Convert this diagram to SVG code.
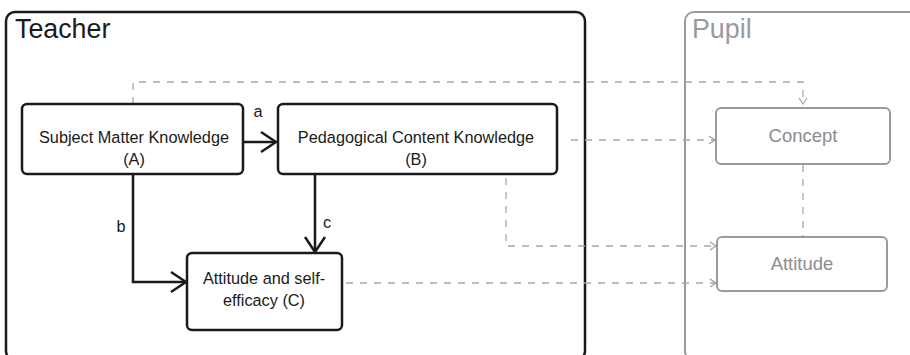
<svg xmlns="http://www.w3.org/2000/svg" width="910" height="355" viewBox="0 0 910 355">
<defs>
<style>
.container-t{fill:none;stroke:#1a1a1a;stroke-width:2.5}
.container-p{fill:none;stroke:#9a9a9a;stroke-width:2}
.box{fill:#fff;stroke:#1a1a1a;stroke-width:2.5}
.pbox{fill:#fff;stroke:#9a9a9a;stroke-width:2}
.t{font-family:"Liberation Sans",Arial,sans-serif;font-size:16.3px;fill:#1a1a1a;text-anchor:middle}
.pt{font-family:"Liberation Sans",Arial,sans-serif;font-size:18.5px;fill:#8c8c8c;text-anchor:middle}
.title{font-family:"Liberation Sans",Arial,sans-serif;font-size:26.8px}
.solid{fill:none;stroke:#1a1a1a;stroke-width:2.5}
.dash{fill:none;stroke:#a8a8a8;stroke-width:1.3;stroke-dasharray:7 7}
</style>
<marker id="ah" markerUnits="userSpaceOnUse" markerWidth="20" markerHeight="24" refX="15" refY="10" orient="auto" overflow="visible">
<path d="M0,0 L15,10 L0,20" fill="none" stroke="#1a1a1a" stroke-width="2.5"/>
</marker>
<marker id="dh" markerUnits="userSpaceOnUse" markerWidth="10" markerHeight="10" refX="6" refY="4" orient="auto" overflow="visible">
<path d="M0,0 L6,4 L0,8" fill="none" stroke="#a0a0a0" stroke-width="1.2"/>
</marker>
</defs>
<rect x="0" y="0" width="910" height="355" fill="#fff"/>
<g id="teacher">
<rect class="container-t" x="6" y="12" width="579" height="348" rx="9"/>
<text class="title" x="15" y="38" fill="#1a1a1a">Teacher</text>
</g>
<g id="pupil">
<rect class="container-p" x="685" y="12" width="240" height="348" rx="9"/>
<text class="title" x="692" y="38" fill="#9a9a9a">Pupil</text>
</g>
<g id="connectors">
<path class="dash" d="M133,104 V82 H803 V104" marker-end="url(#dh)"/>
<path class="dash" d="M571,140 H715" marker-end="url(#dh)"/>
<path class="dash" d="M506,178 V246 H716" marker-end="url(#dh)"/>
<path class="dash" d="M346,283 H716" marker-end="url(#dh)"/>
<path class="dash" d="M803,165 V237"/>
<path class="solid" d="M243,142 H276" marker-end="url(#ah)"/>
<path class="solid" d="M133,174 V282 H186" marker-end="url(#ah)"/>
<path class="solid" d="M315,174 V252" marker-end="url(#ah)"/>
<text class="t" x="258" y="117">a</text>
<text class="t" x="121" y="232">b</text>
<text class="t" x="327" y="228">c</text>
</g>
<g id="smk">
<rect class="box" x="22" y="104" width="221" height="70" rx="5"/>
<text class="t" x="134" y="143">Subject Matter Knowledge</text>
<text class="t" x="134" y="165">(A)</text>
</g>
<g id="pck">
<rect class="box" x="278" y="104" width="279" height="70" rx="5"/>
<text class="t" x="416" y="143">Pedagogical Content Knowledge</text>
<text class="t" x="416" y="165">(B)</text>
</g>
<g id="ase">
<rect class="box" x="187" y="253" width="155" height="77" rx="5"/>
<text class="t" x="264" y="284">Attitude and self-</text>
<text class="t" x="264" y="306">efficacy (C)</text>
</g>
<g id="concept">
<rect class="pbox" x="716" y="108" width="174" height="56" rx="5"/>
<text class="pt" x="803" y="142">Concept</text>
</g>
<g id="attitude">
<rect class="pbox" x="717" y="237" width="170" height="54" rx="5"/>
<text class="pt" x="802" y="270">Attitude</text>
</g>
</svg>
